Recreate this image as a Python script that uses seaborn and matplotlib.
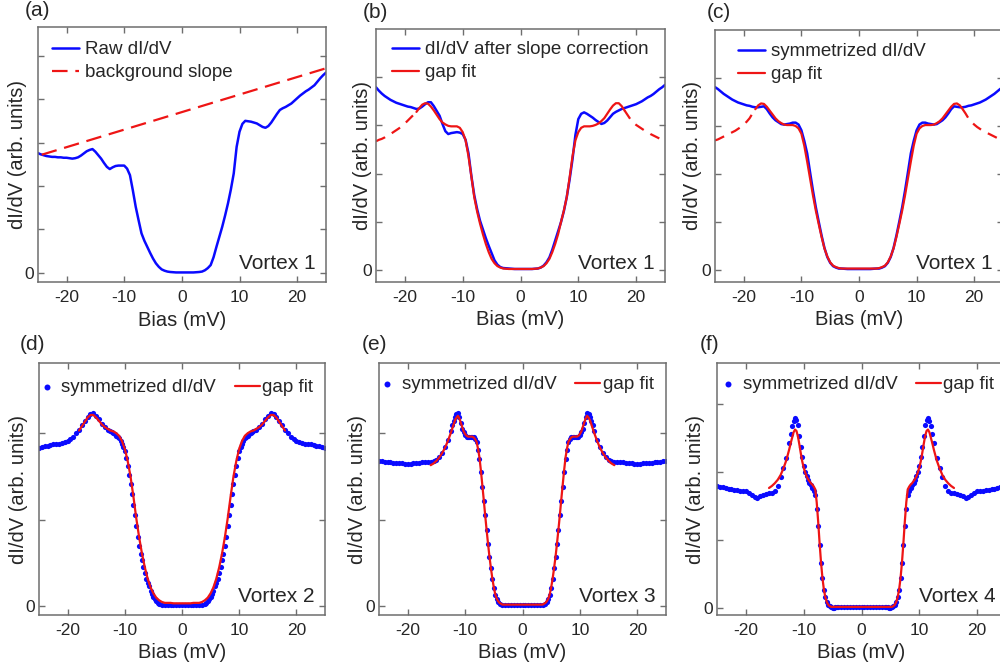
import matplotlib
matplotlib.use("Agg")
import matplotlib.pyplot as plt
import seaborn as sns

# ---------------- data ----------------
# (a) raw spectrum + background slope
bias_a = [-25, -24.5, -24, -23.5, -23, -22.5, -22, -21.5, -21, -20.5, -20, -19.5, -19, -18.5, -18, -17.5, -17,
          -16.5, -16, -15.5, -15, -14.5, -14, -13.5, -13, -12.5, -12, -11.5, -11, -10.5, -10, -9.5, -9, -8.5,
          -8, -7.5, -7, -6.5, -6, -5.5, -5, -4.5, -4, -3.5, -3, -2.5, -2, -1, 0, 1, 2, 3, 3.5, 4, 4.5, 5, 5.5,
          6, 6.5, 7, 7.5, 8, 8.5, 9, 9.5, 10, 10.5, 11, 11.5, 12, 12.5, 13, 13.5, 14, 14.5, 15, 15.5, 16, 16.5,
          17, 17.5, 18, 18.5, 19, 19.5, 20, 20.5, 21, 21.5, 22, 22.5, 23, 23.5, 24, 24.5, 25]
raw_a = [2.76, 2.73, 2.71, 2.69, 2.68, 2.67, 2.67, 2.66, 2.66, 2.65, 2.65, 2.64, 2.63, 2.64, 2.66, 2.70, 2.75,
         2.80, 2.83, 2.85, 2.79, 2.71, 2.63, 2.53, 2.44, 2.39, 2.43, 2.46, 2.47, 2.47, 2.47, 2.40, 2.25, 1.90,
         1.52, 1.21, 0.91, 0.74, 0.60, 0.46, 0.33, 0.22, 0.14, 0.08, 0.05, 0.03, 0.02, 0.01, 0.01, 0.01, 0.01,
         0.02, 0.03, 0.06, 0.11, 0.18, 0.36, 0.60, 0.83, 1.06, 1.32, 1.60, 1.92, 2.29, 2.90, 3.25, 3.43, 3.50,
         3.49, 3.48, 3.46, 3.44, 3.40, 3.36, 3.34, 3.38, 3.46, 3.56, 3.66, 3.75, 3.79, 3.82, 3.86, 3.90, 3.96,
         4.02, 4.08, 4.13, 4.18, 4.22, 4.27, 4.32, 4.40, 4.48, 4.55, 4.61]
bg_bias = [-24.3, 25]
bg_val = [2.72, 4.71]

# (b) slope-corrected spectrum + gap fit
bias_b = [-25, -24.5, -24, -23.5, -23, -22.5, -22, -21.5, -21, -20.5, -20, -19.5, -19, -18.5, -18, -17.5, -17,
          -16.5, -16, -15.5, -15, -14.5, -14, -13.5, -13, -12.5, -12, -11.5, -11, -10.5, -10, -9.5, -9, -8.5,
          -8, -7.5, -7, -6.5, -6, -5.5, -5, -4.5, -4, -3.5, -3, -2, -1, 0, 1, 2, 3, 3.5, 4, 4.5, 5, 5.5, 6, 6.5,
          7, 7.5, 8, 8.5, 9, 9.5, 10, 10.5, 11, 11.5, 12, 12.5, 13, 13.5, 14, 14.5, 15, 15.5, 16, 16.5, 17,
          17.5, 18, 18.5, 19, 19.5, 20, 20.5, 21, 21.5, 22, 22.5, 23, 23.5, 24, 24.5, 25]
corr_b = [3.79, 3.72, 3.66, 3.61, 3.57, 3.53, 3.50, 3.47, 3.45, 3.43, 3.41, 3.39, 3.38, 3.36, 3.34, 3.35, 3.39,
          3.44, 3.48, 3.48, 3.40, 3.30, 3.20, 3.03, 2.88, 2.82, 2.84, 2.85, 2.86, 2.85, 2.82, 2.70, 2.42, 1.95,
          1.55, 1.26, 1.02, 0.84, 0.66, 0.50, 0.35, 0.20, 0.11, 0.06, 0.04, 0.03, 0.02, 0.02, 0.02, 0.02, 0.03,
          0.05, 0.09, 0.16, 0.26, 0.42, 0.61, 0.80, 0.99, 1.22, 1.51, 1.88, 2.30, 2.80, 3.13, 3.24, 3.27, 3.24,
          3.20, 3.16, 3.11, 3.07, 3.03, 3.05, 3.10, 3.17, 3.24, 3.28, 3.31, 3.34, 3.36, 3.38, 3.40, 3.42, 3.44,
          3.47, 3.50, 3.54, 3.58, 3.61, 3.65, 3.70, 3.75, 3.79, 3.84]
fit_b = [2.67, 2.70, 2.72, 2.75, 2.79, 2.82, 2.86, 2.90, 2.94, 2.99, 3.04, 3.10, 3.16, 3.22, 3.28, 3.36, 3.43,
         3.46, 3.45, 3.39, 3.31, 3.22, 3.13, 3.06, 3.02, 2.99, 2.98, 2.98, 2.98, 2.95, 2.86, 2.69, 2.36, 1.94,
         1.51, 1.21, 0.96, 0.74, 0.54, 0.37, 0.23, 0.14, 0.08, 0.05, 0.03, 0.02, 0.02, 0.02, 0.02, 0.02, 0.03,
         0.05, 0.08, 0.14, 0.23, 0.37, 0.54, 0.74, 0.99, 1.23, 1.51, 1.92, 2.36, 2.69, 2.86, 2.95, 2.98, 2.98,
         2.98, 2.99, 3.01, 3.04, 3.09, 3.15, 3.24, 3.33, 3.41, 3.46, 3.46, 3.40, 3.31, 3.22, 3.13, 3.06, 3.01,
         2.97, 2.93, 2.89, 2.86, 2.82, 2.79, 2.76, 2.73, 2.70, 2.68]

# (c) symmetrized spectrum + gap fit (negative-bias half; data are symmetric)
half_c = [-25, -24.5, -24, -23.5, -23, -22.5, -22, -21.5, -21, -20.5, -20, -19.5, -19, -18.5, -18, -17.5, -17,
          -16.5, -16, -15.5, -15, -14.5, -14, -13.5, -13, -12.5, -12, -11.5, -11, -10.5, -10, -9.5, -9, -8.5,
          -8, -7.5, -7, -6.5, -6, -5.5, -5, -4.5, -4, -3.5, -3, -2, -1]
sym_c = [3.80, 3.76, 3.71, 3.66, 3.62, 3.58, 3.54, 3.51, 3.48, 3.46, 3.44, 3.42, 3.41, 3.39, 3.38, 3.38, 3.39,
         3.40, 3.34, 3.25, 3.17, 3.11, 3.07, 3.03, 3.02, 3.03, 3.04, 3.06, 3.06, 3.02, 2.90, 2.68, 2.42, 2.03,
         1.65, 1.30, 1.00, 0.71, 0.45, 0.26, 0.14, 0.07, 0.04, 0.02, 0.02, 0.01, 0.01]
sym_c0 = 0.01
fit_c = [2.69, 2.71, 2.74, 2.77, 2.80, 2.83, 2.86, 2.89, 2.93, 2.97, 3.02, 3.08, 3.15, 3.25, 3.34, 3.42, 3.46,
         3.45, 3.39, 3.31, 3.23, 3.15, 3.09, 3.05, 3.02, 3.01, 3.01, 3.01, 2.99, 2.94, 2.83, 2.58, 2.25, 1.90,
         1.55, 1.23, 0.95, 0.68, 0.44, 0.27, 0.15, 0.08, 0.05, 0.03, 0.02, 0.02, 0.02]
fit_c0 = 0.02

# (d)-(f) symmetrized spectra (negative-bias half) + gap fits
half_dots = [-25, -24.5, -24, -23.5, -23, -22.5, -22, -21.5, -21, -20.5, -20, -19.5, -19, -18.5, -18, -17.5,
             -17, -16.5, -16, -15.5, -15, -14.5, -14, -13.5, -13, -12.5, -12.25, -12, -11.75, -11.5, -11.25,
             -11, -10.75, -10.5, -10.25, -10, -9.75, -9.5, -9.25, -9, -8.75, -8.5, -8.25, -8, -7.75, -7.5,
             -7.25, -7, -6.75, -6.5, -6.25, -6, -5.75, -5.5, -5.25, -5, -4.75, -4.5, -4.25, -4, -3.5, -3, -2.5,
             -2, -1.5, -1, -0.5]
dots_d = [1.83, 1.84, 1.85, 1.85, 1.86, 1.87, 1.87, 1.88, 1.89, 1.90, 1.91, 1.93, 1.95, 2.00, 2.04, 2.09, 2.14,
          2.19, 2.22, 2.23, 2.20, 2.16, 2.11, 2.07, 2.04, 2.02, 2.01, 2.00, 1.99, 1.97, 1.96, 1.94, 1.91, 1.88,
          1.84, 1.79, 1.71, 1.62, 1.52, 1.41, 1.30, 1.17, 1.05, 0.93, 0.80, 0.70, 0.61, 0.53, 0.45, 0.38, 0.32,
          0.27, 0.23, 0.18, 0.14, 0.11, 0.08, 0.06, 0.04, 0.03, 0.02, 0.02, 0.02, 0.02, 0.02, 0.02, 0.02]
dots_d0 = 0.02
dots_e = [1.68, 1.68, 1.67, 1.67, 1.67, 1.66, 1.66, 1.65, 1.65, 1.64, 1.64, 1.64, 1.65, 1.65, 1.66, 1.67, 1.67,
          1.67, 1.67, 1.68, 1.69, 1.72, 1.77, 1.84, 1.92, 2.03, 2.09, 2.14, 2.19, 2.22, 2.23, 2.19, 2.12, 2.05,
          2.01, 1.98, 1.96, 1.95, 1.95, 1.95, 1.95, 1.95, 1.93, 1.90, 1.80, 1.70, 1.55, 1.38, 1.22, 1.05, 0.88,
          0.72, 0.57, 0.44, 0.31, 0.21, 0.13, 0.08, 0.05, 0.03, 0.02, 0.02, 0.02, 0.02, 0.02, 0.02, 0.02]
dots_e0 = 0.02
dots_f = [1.79, 1.78, 1.77, 1.76, 1.75, 1.74, 1.73, 1.73, 1.72, 1.72, 1.71, 1.68, 1.65, 1.62, 1.61, 1.64, 1.66,
          1.67, 1.68, 1.69, 1.71, 1.79, 1.92, 2.05, 2.20, 2.42, 2.56, 2.67, 2.75, 2.79, 2.76, 2.68, 2.52, 2.36,
          2.22, 2.09, 2.00, 1.93, 1.88, 1.84, 1.80, 1.76, 1.71, 1.66, 1.45, 1.20, 0.92, 0.65, 0.44, 0.26, 0.15,
          0.08, 0.04, 0.02, 0.01, 0.00, 0.00, 0.01, 0.01, 0.01, 0.01, 0.01, 0.01, 0.01, 0.01, 0.01, 0.01]
dots_f0 = 0.01

half_fit_d = [-18, -17.5, -17, -16.5, -16, -15.5, -15, -14.5, -14, -13.5, -13, -12.5, -12, -11.5, -11, -10.5,
              -10, -9.5, -9, -8.5, -8, -7.5, -7, -6.5, -6, -5.5, -5, -4.5, -4, -3.5, -3, -2.5, -2, -1.5, -1, -0.5]
fit_d = [2.03, 2.08, 2.13, 2.18, 2.21, 2.21, 2.18, 2.14, 2.10, 2.07, 2.05, 2.03, 2.02, 2.00, 1.97, 1.91, 1.82,
         1.68, 1.50, 1.27, 1.02, 0.80, 0.61, 0.45, 0.32, 0.22, 0.15, 0.10, 0.07, 0.05, 0.04, 0.04, 0.04, 0.035,
         0.035, 0.035]
fit_d0 = 0.035

half_fit_ef = [-16, -15.5, -15, -14.5, -14, -13.5, -13, -12.5, -12.25, -12, -11.75, -11.5, -11.25, -11, -10.75,
               -10.5, -10.25, -10, -9.75, -9.5, -9.25, -9, -8.75, -8.5, -8.25, -8, -7.75, -7.5, -7.25, -7, -6.75,
               -6.5, -6.25, -6, -5.75, -5.5, -5.25, -5, -4.75, -4.5, -4.25, -4, -3.5, -3, -2.5, -2, -1.5, -1, -0.5]
fit_e = [1.63, 1.65, 1.68, 1.72, 1.77, 1.83, 1.91, 2.00, 2.05, 2.10, 2.15, 2.18, 2.20, 2.17, 2.12, 2.07, 2.02,
         1.99, 1.97, 1.96, 1.96, 1.96, 1.96, 1.95, 1.93, 1.90, 1.82, 1.72, 1.57, 1.40, 1.23, 1.05, 0.88, 0.72,
         0.57, 0.44, 0.32, 0.22, 0.14, 0.09, 0.06, 0.04, 0.02, 0.02, 0.02, 0.02, 0.02, 0.02, 0.02]
fit_e0 = 0.02
fit_f = [1.76, 1.79, 1.83, 1.88, 1.95, 2.05, 2.17, 2.33, 2.42, 2.50, 2.58, 2.62, 2.60, 2.52, 2.40, 2.27, 2.15,
         2.06, 1.99, 1.93, 1.89, 1.86, 1.83, 1.81, 1.78, 1.74, 1.55, 1.27, 0.95, 0.66, 0.43, 0.26, 0.15, 0.08,
         0.04, 0.02, 0.01, 0.01, 0.01, 0.01, 0.01, 0.01, 0.01, 0.01, 0.01, 0.01, 0.01, 0.01, 0.01]
fit_f0 = 0.01

panel_tags = ["(a)", "(b)", "(c)", "(d)", "(e)", "(f)"]
vortex_names = ["Vortex 1", "Vortex 1", "Vortex 1", "Vortex 2", "Vortex 3", "Vortex 4"]
x_ticks = [-20, -10, 0, 10, 20]


def mirror(xh, yh, y0):
    """Assemble a symmetrized spectrum from its negative-bias half."""
    x = list(xh) + [0] + [-v for v in reversed(xh)]
    y = list(yh) + [y0] + list(reversed(yh))
    return x, y


for xs, ys in [(bias_a, raw_a), (bias_b, corr_b), (bias_b, fit_b), (half_c, sym_c), (half_c, fit_c),
               (half_dots, dots_d), (half_dots, dots_e), (half_dots, dots_f), (half_fit_d, fit_d),
               (half_fit_ef, fit_e), (half_fit_ef, fit_f)]:
    assert len(xs) == len(ys), (len(xs), len(ys))

# ---------------- style ----------------
BLUE = "#0a0aff"
RED = "#ee1515"
TXT = "#262626"
EDGE = "#6e6e6e"

sns.set_theme(style="ticks")
plt.rcParams["font.family"] = ["Liberation Sans", "DejaVu Sans"]
plt.rcParams.update({
    "xtick.direction": "in", "ytick.direction": "in",
    "xtick.top": True, "ytick.right": True,
    "axes.edgecolor": EDGE, "axes.linewidth": 1.1,
    "xtick.color": EDGE, "ytick.color": EDGE,
    "xtick.labelcolor": TXT, "ytick.labelcolor": TXT,
    "text.color": TXT, "axes.labelcolor": TXT,
    "xtick.major.size": 4, "ytick.major.size": 4,
    "xtick.major.width": 1.0, "ytick.major.width": 1.0,
    "xtick.major.pad": 5.5, "ytick.major.pad": 3,
    "xtick.labelsize": 12.5, "ytick.labelsize": 12.5,
    "axes.labelsize": 14.5,
})

W, H = 1000, 670
fig = plt.figure(figsize=(W / 100, H / 100), dpi=100)


def rect(l, t, r, b):
    return [l / W, 1 - b / H, (r - l) / W, (b - t) / H]


ax_a = fig.add_axes(rect(37.7, 27, 326, 282))
ax_b = fig.add_axes(rect(376, 29, 665, 282))
ax_c = fig.add_axes(rect(715, 30, 1003, 282))
ax_d = fig.add_axes(rect(39, 363, 325, 615))
ax_e = fig.add_axes(rect(379, 363, 666, 615))
ax_f = fig.add_axes(rect(717, 363, 1006, 615))
axes = [ax_a, ax_b, ax_c, ax_d, ax_e, ax_f]

LW_B = 1.8
LW_R = 1.6

# (a)
sns.lineplot(x=bias_a, y=raw_a, ax=ax_a, color=BLUE, lw=LW_B, estimator=None, sort=False, label="Raw dI/dV")
sns.lineplot(x=bg_bias, y=bg_val, ax=ax_a, color=RED, lw=LW_R, estimator=None, sort=False,
             label="background slope")
ax_a.lines[-1].set_dashes([7, 3.5])


def fit_with_tails(ax, xs, ys, lim=18):
    inner = [(x, y) for x, y in zip(xs, ys) if abs(x) <= lim]
    left = [(x, y) for x, y in zip(xs, ys) if x <= -lim]
    right = [(x, y) for x, y in zip(xs, ys) if x >= lim]
    for seg in (left, right):
        sns.lineplot(x=[p[0] for p in seg], y=[p[1] for p in seg], ax=ax, color=RED, lw=LW_R,
                     estimator=None, sort=False)
        ax.lines[-1].set_dashes([4.5, 3.5])
    sns.lineplot(x=[p[0] for p in inner], y=[p[1] for p in inner], ax=ax, color=RED, lw=LW_R,
                 estimator=None, sort=False, label="gap fit")


# (b)
sns.lineplot(x=bias_b, y=corr_b, ax=ax_b, color=BLUE, lw=LW_B, estimator=None, sort=False,
             label="dI/dV after slope correction")
fit_with_tails(ax_b, bias_b, fit_b)

# (c)
xc, yc = mirror(half_c, sym_c, sym_c0)
xcf, ycf = mirror(half_c, fit_c, fit_c0)
sns.lineplot(x=xc, y=yc, ax=ax_c, color=BLUE, lw=LW_B, estimator=None, sort=False, label="symmetrized dI/dV")
fit_with_tails(ax_c, xcf, ycf)

# (d)-(f)
for ax, dots, d0, hx, fit, f0 in [(ax_d, dots_d, dots_d0, half_fit_d, fit_d, fit_d0),
                                  (ax_e, dots_e, dots_e0, half_fit_ef, fit_e, fit_e0),
                                  (ax_f, dots_f, dots_f0, half_fit_ef, fit_f, fit_f0)]:
    xd, yd = mirror(half_dots, dots, d0)
    xf, yf = mirror(hx, fit, f0)
    sns.scatterplot(x=xd, y=yd, ax=ax, color=BLUE, s=14, linewidth=0, label="symmetrized dI/dV", zorder=2)
    sns.lineplot(x=xf, y=yf, ax=ax, color=RED, lw=LW_R, estimator=None, sort=False, label="gap fit", zorder=3)

# axes cosmetics
ylims = [(-0.21, 5.66), (-0.25, 5.0), (-0.26, 4.99), (-0.1, 2.81), (-0.1, 2.81), (-0.11, 3.6)]
yticks = [range(6), range(5), range(5), range(3), range(3), range(4)]
ylab_x = [-0.038, -0.015, -0.046, -0.037, -0.043, -0.042]
for ax, yl, yt, lx, name in zip(axes, ylims, yticks, ylab_x, vortex_names):
    ax.set_xlim(-25, 25)
    ax.set_ylim(*yl)
    ax.set_xticks(x_ticks)
    ax.set_xticklabels([str(t) for t in x_ticks])
    ax.set_yticks(list(yt))
    ax.set_yticklabels(["0"] + [""] * (len(list(yt)) - 1))
    ax.set_xlabel("Bias (mV)")
    ax.set_ylabel("dI/dV (arb. units)")
    ax.yaxis.set_label_coords(lx, 0.5)
    ax.xaxis.set_label_coords(0.5, -0.112)
    ax.text(0.965, 0.05, name, transform=ax.transAxes, ha="right", va="baseline", fontsize=15, color=TXT)
    for s in ax.spines.values():
        s.set_visible(True)

# legends
leg_top = dict(loc="upper left", frameon=False, fontsize=13.5, handlelength=1.45, handletextpad=0.3,
               labelspacing=0.32, borderpad=0, borderaxespad=0)
ax_a.legend(bbox_to_anchor=(0.05, 0.945), **leg_top)
ax_b.legend(bbox_to_anchor=(0.055, 0.952), **leg_top)
ax_c.legend(bbox_to_anchor=(0.08, 0.948), **leg_top)

leg_bot = dict(loc="upper left", frameon=False, fontsize=13.5, handlelength=1.33, handletextpad=0.12, ncol=2,
               columnspacing=1.0, borderpad=0, borderaxespad=0, markerscale=1.15, scatterpoints=1)
ax_d.legend(bbox_to_anchor=(-0.017, 0.936), **leg_bot)
ax_e.legend(bbox_to_anchor=(-0.015, 0.948), **leg_bot)
ax_f.legend(bbox_to_anchor=(-0.005, 0.948), **leg_bot)

# panel tags
tag_pos = [(25, 11), (363, 12), (707, 12), (20, 344), (362, 344), (700, 344)]
for tag, (px, py) in zip(panel_tags, tag_pos):
    fig.text(px / W, 1 - py / H, tag, fontsize=15, ha="left", va="center", color=TXT)

fig.savefig("out.png", dpi=100)
